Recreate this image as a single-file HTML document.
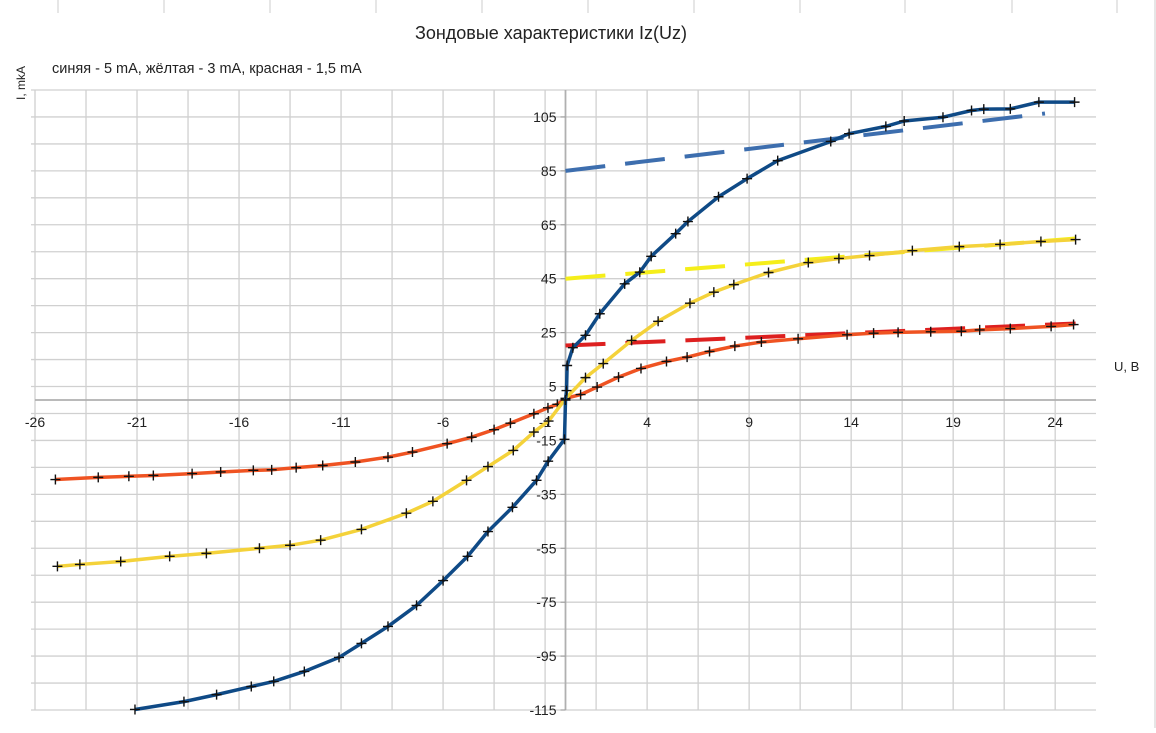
<!DOCTYPE html>
<html><head><meta charset="utf-8"><style>
html,body{margin:0;padding:0;background:#fff;}
body{width:1156px;height:728px;overflow:hidden;font-family:"Liberation Sans",sans-serif;}
</style></head><body>
<svg id="chart" width="1156" height="728" viewBox="0 0 1156 728" xmlns="http://www.w3.org/2000/svg" font-family="Liberation Sans, sans-serif">
<g id="sheet-cols"></g>
<g id="grid"></g>
<g id="axes"></g>
<g id="series"></g>
<text x="551" y="39" font-size="18" text-anchor="middle" fill="#222">Зондовые характеристики Iz(Uz)</text>
<text x="52" y="73" font-size="14.5" fill="#222">синяя - 5 mA, жёлтая - 3 mA, красная - 1,5 mA</text>
<text x="0" y="0" font-size="12" fill="#222" transform="translate(25,100) rotate(-90)">I, mkA</text>
<text x="1114" y="371" font-size="13" fill="#222">U, B</text>
</svg>
<script>
const xTicks=[-26,-21,-16,-11,-6,-1,4,9,14,19,24];
const yTicks=[105,85,65,45,25,5,-15,-35,-55,-75,-95,-115];
const redU=[-25,-22.9,-21.4,-20.2,-18.3,-16.9,-15.3,-14.4,-13.2,-11.9,-10.3,-8.7,-7.5,-5.8,-4.6,-3.5,-2.7,-1.55,-0.86,-0.4,0,0.74,1.55,2.6,3.7,4.95,5.96,7.06,8.3,9.6,11.4,13.8,15.1,16.3,17.9,19.4,20.3,21.8,23.8,24.9];
const redI=[-29.5,-28.7,-28.3,-28,-27.3,-26.7,-26.1,-25.9,-25.1,-24.3,-23,-21.2,-19.3,-16.2,-13.8,-11,-8.6,-5.1,-2.9,-1.6,0.6,2,4.8,8.5,11.7,14.3,15.9,18,20,21.5,22.7,24.2,24.8,25.1,25.3,25.5,26,26.5,27.3,28];
const yelU=[-24.9,-23.8,-21.8,-19.4,-17.6,-15,-13.5,-12,-10,-7.8,-6.5,-4.85,-3.8,-2.56,-1.55,-0.83,0,0.98,1.85,3.24,4.54,6.1,7.27,8.25,9.95,11.9,13.4,14.9,17,19.3,21.3,23.3,25];
const yelI=[-61.7,-61,-59.9,-58,-56.9,-55,-53.9,-52,-48,-42,-37.6,-29.8,-24.7,-18.7,-11.9,-7.8,0.5,8.3,13.5,22.1,29.2,35.9,40,42.8,47.3,51,52.5,53.6,55.4,56.9,57.7,58.8,59.5];
const bluU=[-21.1,-18.7,-17.1,-15.4,-14.3,-12.8,-11.1,-10,-8.7,-7.3,-6,-4.8,-3.8,-2.6,-1.42,-0.85,-0.05,0,0.05,0.08,0.36,0.98,1.68,2.9,3.64,4.2,5.4,6.0,7.5,8.9,10.4,13,13.9,15.7,16.6,18.5,19.9,20.5,21.8,23.2,24.95];
const bluI=[-114.8,-111.9,-109.3,-106.3,-104.4,-100.7,-95.5,-90.3,-84,-76.2,-67,-58,-48.8,-39.8,-29.8,-22.7,-14.6,0,3.5,12.8,19.4,24,32,43.1,47.4,53.3,61.7,66.2,75.4,82.1,88.8,95.9,98.8,101.5,103.5,104.9,107.4,107.9,108,110.5,110.5];
const redTrendU=[0,25], redTrendI=[20.2,28.4];
const yelTrendU=[0,25], yelTrendI=[45,59.9];
const bluTrendU=[0,23.5], bluTrendI=[85,106.3];

const X0=35,X1=1096,Y0=90,Y1=710,UMIN=-26,UMAX=26,IMIN=-115,IMAX=115;
const sx=u=>X0+(u-UMIN)/(UMAX-UMIN)*(X1-X0);
const sy=i=>Y1-(i-IMIN)/(IMAX-IMIN)*(Y1-Y0);
const NS="http://www.w3.org/2000/svg";
function mk(tag,parent,attrs){const e=document.createElementNS(NS,tag);for(const k in attrs)e.setAttribute(k,attrs[k]);parent.appendChild(e);return e;}
const sheet=document.getElementById('sheet-cols');
[58,164,270,376,482,588,694,800,905,1012,1117].forEach(x=>{mk('line',sheet,{x1:x,x2:x,y1:0,y2:13,stroke:'#ccc','stroke-width':1});});
mk('line',sheet,{x1:1155,x2:1155,y1:0,y2:728,stroke:'#ccc','stroke-width':1});
const grid=document.getElementById('grid');
for(let u=UMIN;u<=UMAX+0.01;u+=2.5){const l=mk('line',grid,{x1:sx(u),x2:sx(u),y1:Y0,y2:Y1,stroke:'#d0d0d0','stroke-width':1.3});}
for(let i=IMIN;i<=IMAX+0.01;i+=10){const l=mk('line',grid,{x1:X0-4,x2:X1,y1:sy(i),y2:sy(i),stroke:'#d0d0d0','stroke-width':1.3});}
const axes=document.getElementById('axes');
const xa=mk('line',axes,{x1:X0,x2:X1,y1:sy(0),y2:sy(0),stroke:'#b0b0b0','stroke-width':1.8});

const ya=mk('line',axes,{x1:sx(0),x2:sx(0),y1:Y0,y2:Y1,stroke:'#b0b0b0','stroke-width':1.8});

xTicks.forEach(u=>{const t=mk('text',axes,{x:sx(u),y:sy(0)+27,'font-size':14,'text-anchor':'middle',fill:'#222'});t.textContent=u;
});
yTicks.forEach(i=>{const t=mk('text',axes,{x:sx(0)-9,y:sy(i)+5,'font-size':14,'text-anchor':'end',fill:'#222'});t.textContent=i;

mk('line',axes,{x1:sx(0)-5,x2:sx(0),y1:sy(i),y2:sy(i),stroke:'#999','stroke-width':1});});
const ser=document.getElementById('series');
function trend(U,I,color,name){const l=mk('line',ser,{x1:sx(U[0]),y1:sy(I[0]),x2:sx(U[1]),y2:sy(I[1]),stroke:color,'stroke-width':4,'stroke-dasharray':'40 20'});
}
function series(U,I,color,name){
const p=mk('polyline',ser,{points:U.map((u,k)=>sx(u)+','+sy(I[k])).join(' '),fill:'none',stroke:color,'stroke-width':3.5,'stroke-linejoin':'round'});

U.forEach((u,k)=>{const x=sx(u),y=sy(I[k]);const m=mk('path',ser,{d:`M${x-5},${y}H${x+5}M${x},${y-5}V${y+5}`,stroke:'#111','stroke-width':1.4});
});}
trend(bluTrendU,bluTrendI,'#3d6eae','blue-trend-line');
trend(yelTrendU,yelTrendI,'#f5ee1a','yellow-trend-line');
trend(redTrendU,redTrendI,'#dd2020','red-trend-line');
series(redU,redI,'#ef5322','red-series');
series(yelU,yelI,'#f4d23a','yellow-series');
series(bluU,bluI,'#0f4a86','blue-series');
</script>
</body></html>
